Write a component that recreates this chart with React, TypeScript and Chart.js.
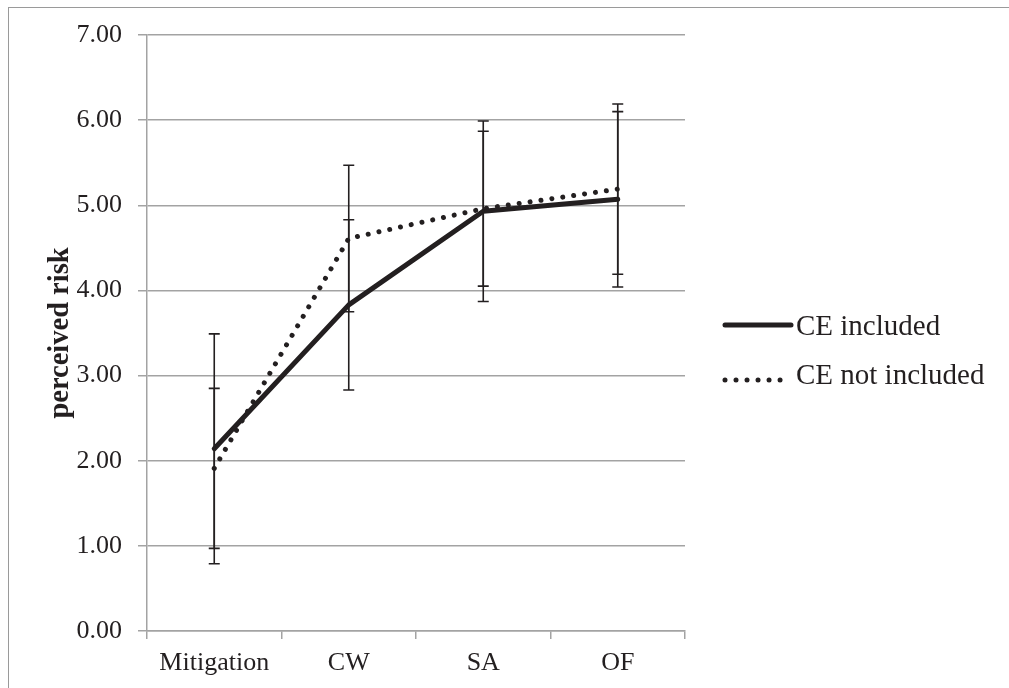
import React, { useEffect, useRef } from "react";
import { Chart, registerables } from "chart.js";

Chart.register(...registerables);

const categories = ["Mitigation", "CW", "SA", "OF"];
const ceIncluded = [2.14, 3.83, 4.93, 5.07];
const ceIncludedErr = [1.35, 1.0, 1.06, 1.03];
const ceNotIncluded = [1.91, 4.61, 4.96, 5.19];
const ceNotIncludedErr = [0.94, 0.86, 0.91, 1.0];
const seriesLabels = ["CE included", "CE not included"];

const TEXT = "#231f20";
const GRID = "#a3a3a3";
const FONT = "'Liberation Serif', serif";

const errorBarPlugin = {
  id: "errorBars",
  afterDatasetsDraw(chart: any) {
    const ctx = chart.ctx;
    const x = chart.scales.x;
    const y = chart.scales.y;
    const sets = [
      { v: ceIncluded, e: ceIncludedErr },
      { v: ceNotIncluded, e: ceNotIncludedErr },
    ];
    ctx.save();
    ctx.strokeStyle = TEXT;
    ctx.lineWidth = 1.6;
    sets.forEach((s) => {
      s.v.forEach((val, i) => {
        const px = x.getPixelForValue(i);
        const top = y.getPixelForValue(val + s.e[i]);
        const bot = y.getPixelForValue(val - s.e[i]);
        ctx.beginPath();
        ctx.moveTo(px, top);
        ctx.lineTo(px, bot);
        ctx.moveTo(px - 5.5, top);
        ctx.lineTo(px + 5.5, top);
        ctx.moveTo(px - 5.5, bot);
        ctx.lineTo(px + 5.5, bot);
        ctx.stroke();
      });
    });
    ctx.restore();
  },
};

const legendPlugin = {
  id: "customLegend",
  afterDraw(chart: any) {
    const ctx = chart.ctx;
    const area = chart.chartArea;
    const mid = (area.top + area.bottom) / 2;
    const x0 = area.right + 38;
    ctx.save();
    ctx.fillStyle = TEXT;
    ctx.font = `29px ${FONT}`;
    ctx.textBaseline = "alphabetic";
    ctx.textAlign = "left";
    ctx.strokeStyle = TEXT;
    ctx.lineWidth = 5;
    ctx.lineCap = "round";
    ctx.beginPath();
    ctx.moveTo(x0 + 2, mid - 8);
    ctx.lineTo(x0 + 68, mid - 8);
    ctx.stroke();
    ctx.fillText(seriesLabels[0], x0 + 73, mid + 2);
    ctx.setLineDash([0.01, 11]);
    ctx.lineWidth = 5;
    ctx.beginPath();
    ctx.moveTo(x0 + 2, mid + 47);
    ctx.lineTo(x0 + 62, mid + 47);
    ctx.stroke();
    ctx.setLineDash([]);
    ctx.fillText(seriesLabels[1], x0 + 73, mid + 51);
    ctx.restore();
  },
};

export default function App() {
  const ref = useRef<HTMLCanvasElement>(null);
  useEffect(() => {
    const chart = new Chart(ref.current as HTMLCanvasElement, {
      type: "line",
      data: {
        labels: categories,
        datasets: [
          {
            label: seriesLabels[0],
            data: ceIncluded,
            borderColor: TEXT,
            borderWidth: 5,
            pointRadius: 0,
            tension: 0,
            borderCapStyle: "round",
            borderJoinStyle: "round",
          },
          {
            label: seriesLabels[1],
            data: ceNotIncluded,
            borderColor: TEXT,
            borderWidth: 5,
            borderDash: [0.01, 11],
            borderCapStyle: "round",
            pointRadius: 0,
            tension: 0,
          },
        ],
      },
      options: {
        responsive: false,
        animation: false,
        events: [],
        layout: { padding: { left: 0, right: 324, top: 35, bottom: 0 } },
        plugins: { legend: { display: false }, tooltip: { enabled: false } },
        scales: {
          x: {
            type: "category",
            offset: true,
            afterFit: (s: any) => {
              s.height = 57;
            },
            grid: {
              offset: true,
              drawOnChartArea: false,
              drawTicks: true,
              tickLength: 8,
              color: GRID,
              lineWidth: 1.5,
            },
            border: { color: GRID, width: 1.5 },
            ticks: {
              color: TEXT,
              font: { family: FONT, size: 26 },
              padding: 9,
              maxRotation: 0,
            },
          },
          y: {
            min: 0,
            max: 7,
            afterFit: (s: any) => {
              s.width = 147;
            },
            grid: {
              color: GRID,
              lineWidth: 1.5,
              tickLength: 9,
            },
            border: { color: GRID, width: 1.5 },
            ticks: {
              stepSize: 1,
              color: TEXT,
              font: { family: FONT, size: 26 },
              padding: 16,
              callback: (v: any) => Number(v).toFixed(2),
            },
            title: {
              display: true,
              text: "perceived risk",
              color: TEXT,
              font: { family: FONT, size: 28.5, weight: "bold" },
              padding: { top: 44, bottom: 0 },
            },
          },
        },
      },
      plugins: [errorBarPlugin, legendPlugin],
    });
    return () => chart.destroy();
  }, []);
  return (
    <div
      style={{
        position: "fixed",
        left: 0,
        top: 0,
        width: 1009,
        height: 688,
        background: "#fff",
        overflow: "hidden",
      }}
    >
      <div
        style={{
          position: "absolute",
          left: 8,
          top: 7,
          width: 1100,
          height: 800,
          borderLeft: "1.5px solid #9a9a9a",
          borderTop: "1.5px solid #9a9a9a",
        }}
      />
      <canvas
        ref={ref}
        width={1009}
        height={688}
        style={{ position: "absolute", left: 0, top: 0 }}
      />
    </div>
  );
}
